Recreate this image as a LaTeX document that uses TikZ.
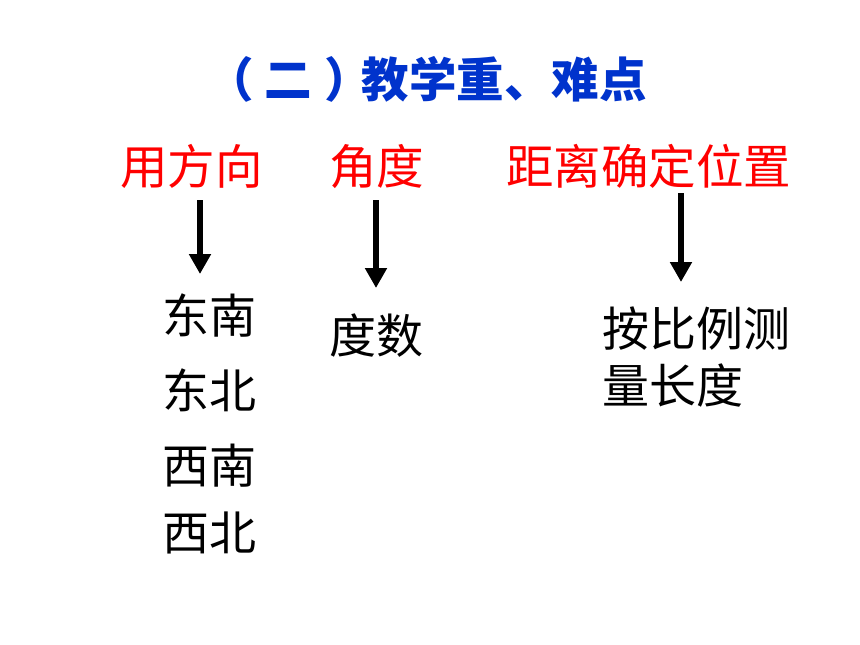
\documentclass[tikz,border=0pt]{standalone}
\usepackage{fontspec}
\newfontfamily\cjk{Noto Sans CJK SC}
\usepackage{tikz}
\usetikzlibrary{arrows.meta}

\begin{document}
\begin{tikzpicture}[x=1pt,y=-1pt,
    title_text/.style ={inner sep=0pt, text=titleblue,
      font=\cjk\bfseries\fontsize{47.5}{50}\selectfont},
    label_main/.style ={inner sep=0pt, text=red,
      font=\cjk\fontsize{47.5}{50}\selectfont},
    label_sub/.style ={inner sep=0pt, text=black,
      font=\cjk\fontsize{47}{50}\selectfont},
    line/.style ={draw, line width=6.5pt, -{Triangle[length=20pt,width=21pt]}}]
    \definecolor{titleblue}{RGB}{0,51,204}
    \useasboundingbox (0,0) rectangle (860,645);
    % title
    \node [title_text, anchor=base east] (title) at (647,97)
      {（\hspace{11pt}二\hspace{12pt}）\hspace{-10pt}教学重、难点};
    % top labels
    \node [label_main, anchor=base west] (direction) at (120,184) {用方向};
    \node [label_main, anchor=base west] (angle) at (329,184) {角度};
    \node [label_main, anchor=base west] (distance) at (506,184) {距离确定位置};
    % lower texts
    \node [label_sub, anchor=base west] (se) at (162,333) {东南};
    \node [label_sub, anchor=base west] (ne) at (162,408) {东北};
    \node [label_sub, anchor=base west] (sw) at (162,483) {西南};
    \node [label_sub, anchor=base west] (nw) at (162,550) {西北};
    \node [label_sub, anchor=base west] (degrees) at (329,353) {度数};
    \node [label_sub, anchor=base west] (scale1) at (602,346) {按比例测};
    \node [label_sub, anchor=base west] (scale2) at (602,403) {量长度};
    % arrows
    \coordinate (dir_top) at (200,200);
    \coordinate (dir_tip) at (200,274);
    \coordinate (ang_top) at (376,200);
    \coordinate (ang_tip) at (376,288);
    \coordinate (dis_top) at (681,193);
    \coordinate (dis_tip) at (681,282);
    \begin{scope}[every path/.style=line]
      \path (dir_top) -- (dir_tip);
      \path (ang_top) -- (ang_tip);
      \path (dis_top) -- (dis_tip);
    \end{scope}
\end{tikzpicture}
\end{document}
